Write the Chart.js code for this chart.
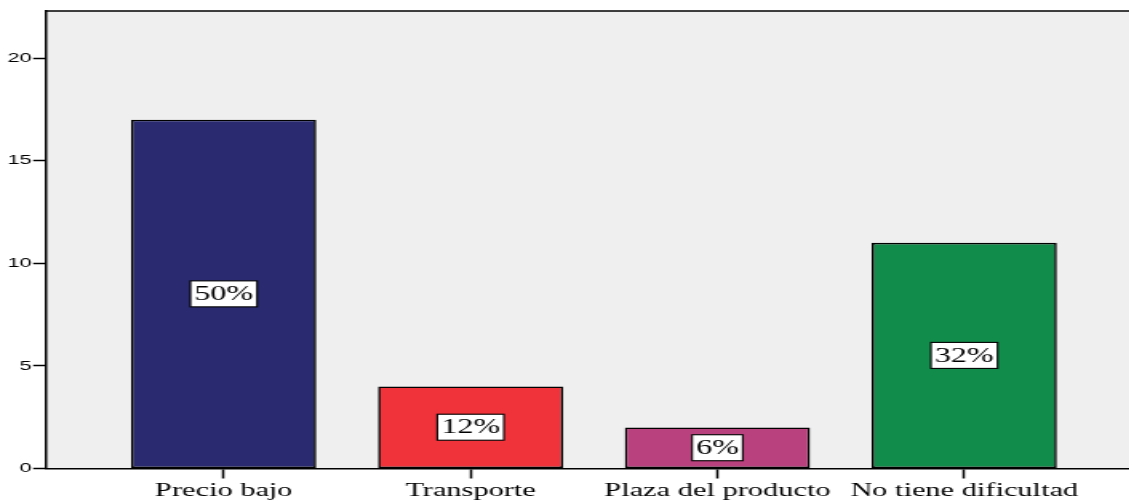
<!DOCTYPE html>
<html>
<head>
<meta charset="utf-8">
<script src="https://cdn.jsdelivr.net/npm/chart.js@4/dist/chart.umd.min.js"></script>
<style>
    body { margin: 0; overflow: hidden; background: #fff; }
    #chart { display: block; }
</style>
</head>
<body>
<!-- drawn at 714px and stretched wide, like the original picture -->
<canvas id="chart" width="714" height="501" style="width: 1142px; height: 501px"></canvas>
<script>
// data
var categories = ["Precio bajo", "Transporte", "Plaza del producto", "No tiene dificultad"];
var counts = [17, 4, 2, 11];
var percentLabels = ["50%", "12%", "6%", "32%"];
var barColors = ["#292a70", "#f0333b", "#b9417d", "#118c4a"];
var yTicks = [0, 5, 10, 15, 20];

// plot background + top border
var frame = {
    id: "frame",
    beforeDraw: function (chart) {
        var a = chart.chartArea;
        var ctx = chart.ctx;
        ctx.save();
        ctx.fillStyle = "#efefef";
        ctx.fillRect(a.left, a.top, a.right - a.left, a.bottom - a.top);
        ctx.restore();
    },
    afterDraw: function (chart) {
        var a = chart.chartArea;
        var ctx = chart.ctx;
        ctx.save();
        ctx.strokeStyle = "#000";
        ctx.lineWidth = 1.5;
        ctx.beginPath();
        ctx.moveTo(a.left, a.top);
        ctx.lineTo(a.right, a.top);
        ctx.stroke();
        ctx.restore();
    },
};

// percent boxes in the middle of each bar
var boxLabels = {
    id: "boxLabels",
    afterDatasetsDraw: function (chart) {
        var ctx = chart.ctx;
        var meta = chart.getDatasetMeta(0);
        ctx.save();
        ctx.font = "20px 'Liberation Serif'";
        ctx.textAlign = "center";
        ctx.textBaseline = "middle";
        meta.data.forEach(function (bar, i) {
            var text = percentLabels[i];
            var cy = (bar.y + bar.base) / 2;
            var w = ctx.measureText(text).width + 5;
            var h = 26;
            ctx.fillStyle = "#fff";
            ctx.fillRect(bar.x - w / 2, cy - h / 2, w, h);
            ctx.strokeStyle = "#000";
            ctx.lineWidth = 1.1;
            ctx.strokeRect(bar.x - w / 2, cy - h / 2, w, h);
            ctx.fillStyle = "#000";
            ctx.fillText(text, bar.x, cy + 1);
        });
        ctx.restore();
    },
};

var data = {
    datasets: [
        {
            label: "Frecuencia",
            data: categories.map(function (c, i) {
                return { x: i, y: counts[i] };
            }),
            backgroundColor: barColors,
            borderColor: "#000",
            borderWidth: 1.6,
            borderSkipped: false,
            barPercentage: 0.75,
            categoryPercentage: 1,
        },
    ],
};

var options = {
    responsive: false,
    animation: false,
    layout: { padding: { top: 11, left: 0, right: 0, bottom: 0 } },
    plugins: {
        legend: { display: false },
        tooltip: { enabled: false },
    },
    scales: {
        x: {
            type: "linear",
            min: -0.72,
            max: 3.72,
            offset: false,
            afterBuildTicks: function (scale) {
                scale.ticks = categories.map(function (c, i) {
                    return { value: i };
                });
            },
            afterFit: function (scale) {
                scale.height = 32.5;
            },
            grid: {
                offset: false,
                drawOnChartArea: false,
                drawTicks: true,
                tickLength: 10,
                tickWidth: 1.5,
                tickColor: "#000",
            },
            border: { display: true, color: "#000", width: 1.5 },
            ticks: {
                autoSkip: false,
                maxRotation: 0,
                padding: 1,
                color: "#000",
                font: { family: "'Liberation Serif'", size: 19 },
                callback: function (v) {
                    return categories[v];
                },
            },
        },
        y: {
            min: 0,
            max: 22.3,
            afterBuildTicks: function (scale) {
                scale.ticks = yTicks.map(function (v) {
                    return { value: v };
                });
            },
            afterFit: function (scale) {
                scale.width = 28.75;
            },
            grid: {
                drawOnChartArea: false,
                drawTicks: true,
                tickLength: 8,
                tickWidth: 1.5,
                tickColor: "#000",
            },
            border: { display: true, color: "#000", width: 1.5 },
            ticks: {
                padding: 1,
                color: "#000",
                font: { family: "'Liberation Sans'", size: 13.5 },
            },
        },
    },
};

new Chart("chart", {
    type: "bar",
    data: data,
    options: options,
    plugins: [frame, boxLabels],
});
</script>
</body>
</html>
